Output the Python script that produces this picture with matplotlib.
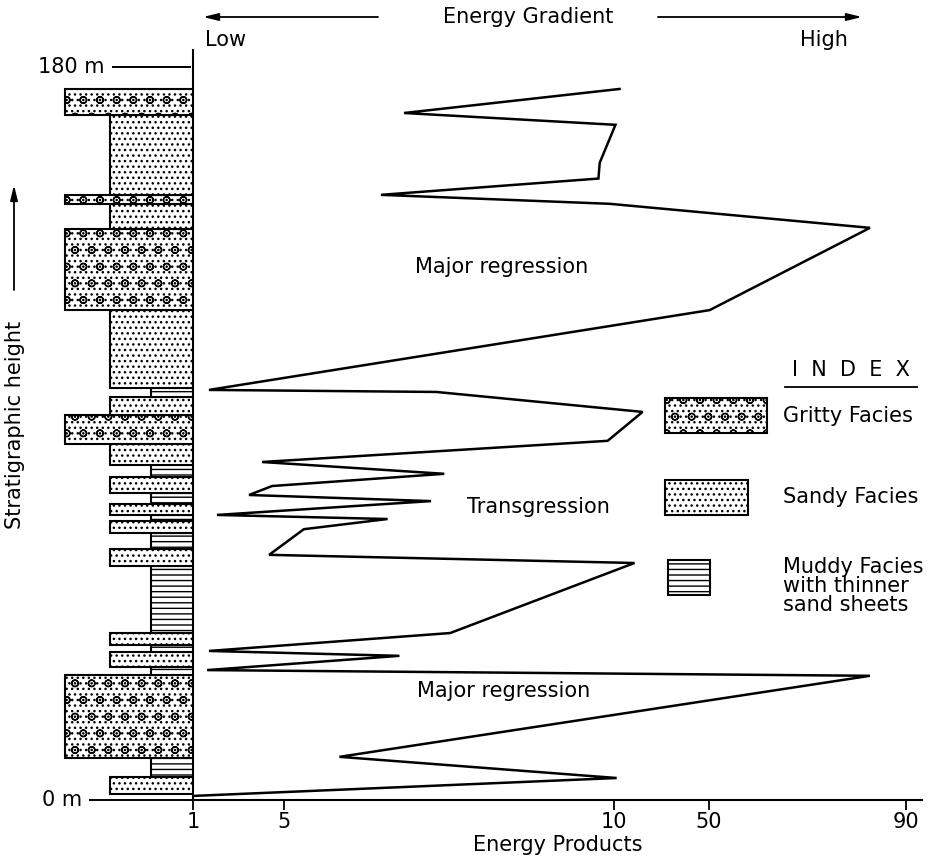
import numpy as np
import matplotlib.pyplot as plt
from matplotlib.patches import Rectangle
from matplotlib.lines import Line2D

# Curva de productos de energía (valor, altura estratigráfica en m)
energia = [12.5, 6.82, 10.8, 9.79, 9.77, 6.47, 9.94, 82.7, 50.2, 1.70,
           7.31, 22.2, 9.91, 4.03, 7.43, 4.47, 3.46, 7.23, 2.05, 6.57,
           5.30, 4.34, 18.8, 7.52, 1.70, 6.75, 1.62, 82.7, 5.84, 11.3, 1.0]
altura = [174.6, 168.7, 165.8, 156.5, 152.6, 148.6, 146.4, 140.5, 120.3, 100.7,
          100.2, 95.3, 88.2, 83.0, 80.1, 77.1, 74.9, 73.4, 70.0, 69.0,
          66.5, 60.2, 58.2, 41.0, 36.6, 35.4, 31.9, 30.5, 10.6, 5.4, 1.0]

# Columna estratigráfica: base, techo y facies de cada capa
base_capa = [1.5, 5.6, 10.3, 30.7, 32.7, 36.3, 38.1, 41.0, 57.5, 61.6, 65.6, 68.5, 70.0,
             72.7, 75.4, 79.3, 82.3, 87.4, 94.5, 99.0, 101.2, 120.3, 140.2, 146.4, 148.6, 168.2]
techo_capa = [5.6, 10.3, 30.7, 32.7, 36.3, 38.1, 41.0, 57.5, 61.6, 65.6, 68.5, 70.0, 72.7,
              75.4, 79.3, 82.3, 87.4, 94.5, 99.0, 101.2, 120.3, 140.2, 146.4, 148.6, 168.2, 174.6]
facies_capa = ['sandy', 'muddy', 'gritty', 'muddy', 'sandy', 'muddy', 'sandy', 'muddy',
               'sandy', 'muddy', 'sandy', 'muddy', 'sandy', 'muddy', 'sandy', 'muddy',
               'sandy', 'gritty', 'sandy', 'muddy', 'sandy', 'gritty', 'sandy', 'gritty',
               'sandy', 'gritty']

valores_ticks = [1, 5, 10, 50, 90]
etiquetas_ticks = ['1', '5', '10', '50', '90']
alturas_ticks = [0, 180]
etiquetas_alturas = ['0 m', '180 m']

# escala no lineal del eje de energía
escala_val = [1, 5, 10, 50, 90, 130]
escala_pos = [0, 91, 420, 515, 712, 909]

ancho = {'gritty': 128, 'sandy': 83, 'muddy': 42}
trama = {'gritty': '...o', 'sandy': '...', 'muddy': '---'}

plt.rcParams['font.family'] = 'DejaVu Sans'
plt.rcParams['hatch.linewidth'] = 1.0
FS = 15

W, H = 952, 866
fig = plt.figure(figsize=(W / 100, H / 100), dpi=100)


def fx(px):
    return px / W


def fy(py):
    return 1 - py / H


ax = fig.add_axes([fx(193), fy(800), (922 - 193) / W, (800 - 50) / H])
ax.set_xscale('function', functions=(lambda x: np.interp(x, escala_val, escala_pos),
                                     lambda p: np.interp(p, escala_pos, escala_val)))
ax.set_xlim(1, 93.25)
ax.set_ylim(0, 184.17)

ax.plot(energia, altura, color='black', lw=1.8, solid_joinstyle='miter')

for s in ['top', 'right']:
    ax.spines[s].set_visible(False)
for s in ['left', 'bottom']:
    ax.spines[s].set_linewidth(1.5)

ax.set_xticks(valores_ticks)
ax.set_xticklabels(etiquetas_ticks, fontsize=FS)
ax.tick_params(axis='x', direction='out', length=7, width=1.3, pad=2)
ax.set_yticks([])
ax.set_xlabel('Energy Products', fontsize=FS, labelpad=2)

# marcas de altura (0 m y 180 m) como líneas largas a la izquierda
inicio_linea = {0: 90, 180: 113}
fin_linea = {0: 193, 180: 190}
for h, lab in zip(alturas_ticks, etiquetas_alturas):
    ypix = 800 - h * 733 / 180
    fig.add_artist(Line2D([fx(inicio_linea[h]), fx(fin_linea[h])], [fy(ypix), fy(ypix)],
                          color='black', lw=1.4))
    fig.text(fx(inicio_linea[h] - 8), fy(ypix), lab, ha='right', va='center', fontsize=FS)

# columna estratigráfica
col = fig.add_axes([fx(55), fy(800), (193 - 55) / W, (800 - 50) / H], sharey=ax)
col.set_xlim(0, 138)
col.axis('off')
for b, t, f in zip(base_capa, techo_capa, facies_capa):
    col.barh(b, ancho[f], height=t - b, left=138 - ancho[f], align='edge',
             facecolor='white', edgecolor='black', lw=1.5, hatch=trama[f])

# etiquetas dentro del gráfico
fig.text(fx(502), fy(267), 'Major regression', ha='center', va='center', fontsize=FS)
fig.text(fx(538), fy(507), 'Transgression', ha='center', va='center', fontsize=FS)
fig.text(fx(504), fy(691), 'Major regression', ha='center', va='center', fontsize=FS)

# gradiente de energía arriba
fig.text(fx(528), fy(17), 'Energy Gradient', ha='center', va='center', fontsize=FS)
flecha = dict(arrowstyle='-|>,head_length=0.9,head_width=0.22', lw=1.3, color='black',
              shrinkA=0, shrinkB=0)
ax.annotate('', xy=(fx(203), fy(17)), xytext=(fx(378), fy(17)),
            xycoords='figure fraction', textcoords='figure fraction', arrowprops=flecha)
ax.annotate('', xy=(fx(862), fy(17)), xytext=(fx(658), fy(17)),
            xycoords='figure fraction', textcoords='figure fraction', arrowprops=flecha)
fig.text(fx(205), fy(40), 'Low', ha='left', va='center', fontsize=FS)
fig.text(fx(848), fy(40), 'High', ha='right', va='center', fontsize=FS)

# eje vertical: altura estratigráfica
fig.text(fx(15), fy(425), 'Stratigraphic height', rotation=90, ha='center', va='center', fontsize=FS)
ax.annotate('', xy=(fx(14), fy(185)), xytext=(fx(14), fy(290)),
            xycoords='figure fraction', textcoords='figure fraction', arrowprops=flecha)

# índice
fig.text(fx(851), fy(370), 'I  N  D  E  X', ha='center', va='center', fontsize=FS)
fig.add_artist(Line2D([fx(785), fx(917)], [fy(387), fy(387)], color='black', lw=1.3))
cajas = [('gritty', 665, 398, 102, 35, 'Gritty Facies', 416),
         ('sandy', 665, 480, 83, 35, 'Sandy Facies', 497),
         ('muddy', 668, 560, 42, 35, 'Muddy Facies\nwith thinner\nsand sheets', 586)]
for f, x0, y0, w, h, lab, ty in cajas:
    fig.add_artist(Rectangle((fx(x0), fy(y0 + h)), w / W, h / H, facecolor='white',
                             edgecolor='black', lw=1.5, hatch=trama[f]))
    fig.text(fx(783), fy(ty), lab, ha='left', va='center', fontsize=FS, linespacing=0.95)

fig.savefig('out.png', dpi=100)
